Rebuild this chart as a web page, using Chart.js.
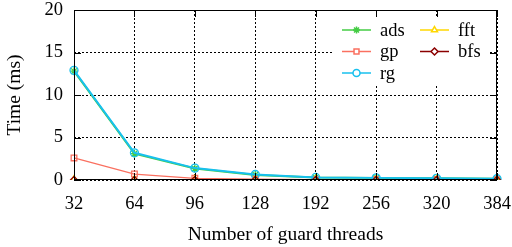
<!DOCTYPE html>
<html>
<head>
<meta charset="utf-8">
<script src="https://cdn.jsdelivr.net/npm/chart.js@4"></script>
<style>
  html, body { margin: 0; padding: 0; background: #fff; }
  #wrap { width: 512px; height: 247px; }
</style>
</head>
<body>
<div id="wrap"><canvas id="timeChart" width="512" height="247"></canvas></div>
<script>
// Data
var threads = ['32', '64', '96', '128', '192', '256', '320', '384'];
var ads = [12.8, 3.1, 1.35, 0.6, 0.3, 0.25, 0.2, 0.15];
var gp  = [2.6, 0.7, 0.2, 0.1, 0.05, 0.05, 0.05, 0.05];
var rg  = [12.9, 3.2, 1.4, 0.65, 0.3, 0.25, 0.2, 0.15];
var fft = [0.04, 0.04, 0.04, 0.04, 0.04, 0.04, 0.04, 0.04];
var bfs = [0.01, 0.01, 0.01, 0.01, 0.01, 0.01, 0.01, 0.01];
var yTicks = [0, 5, 10, 15, 20];

var FONT = '"Liberation Serif", "DejaVu Serif", serif';

// order: later series are drawn on top, like gnuplot does
function makeSet(label, data, color, style, width, radius, order) {
  return {
    label: label,
    data: data,
    borderColor: color,
    backgroundColor: 'rgba(0,0,0,0)',
    pointBorderColor: color,
    pointBackgroundColor: 'rgba(0,0,0,0)',
    pointStyle: style,
    pointRadius: radius,
    pointBorderWidth: 1.3,
    borderWidth: width,
    tension: 0,
    order: order
  };
}

// gnuplot-like box with inward ticks
var boxPlugin = {
  id: 'box',
  afterDraw: function(chart) {
    var ctx = chart.ctx, a = chart.chartArea;
    var x = chart.scales.x, y = chart.scales.y;
    ctx.save();
    ctx.strokeStyle = '#000';
    ctx.lineWidth = 1;
    ctx.setLineDash([]);
    ctx.strokeRect(a.left + 0.5, a.top + 0.5, a.right - a.left - 1, a.bottom - a.top - 1);
    ctx.beginPath();
    yTicks.forEach(function(v) {
      var py = Math.round(y.getPixelForValue(v)) + 0.5;
      ctx.moveTo(a.left, py); ctx.lineTo(a.left + 7, py);
      ctx.moveTo(a.right, py); ctx.lineTo(a.right - 7, py);
    });
    threads.forEach(function(t, i) {
      var px = Math.round(x.getPixelForValue(i)) + 0.5;
      ctx.moveTo(px, a.bottom); ctx.lineTo(px, a.bottom - 7);
      ctx.moveTo(px, a.top); ctx.lineTo(px, a.top + 7);
    });
    ctx.stroke();
    ctx.restore();
  }
};

// legend inside the plot, two columns, white background
var legendPlugin = {
  id: 'insideLegend',
  afterDatasetsDraw: function(chart) {
    var ctx = chart.ctx, a = chart.chartArea;
    var sets = chart.data.datasets;
    var cols = [[0, 1, 2], [3, 4]];
    var colX = [a.right - 155, a.right - 77];
    var rowY = [a.top + 20, a.top + 41.5, a.top + 63];
    ctx.save();
    ctx.fillStyle = '#fff';
    ctx.fillRect(a.right - 165, a.top + 7, 157, 68);
    ctx.font = '18.5px ' + FONT;
    ctx.textBaseline = 'middle';
    cols.forEach(function(col, c) {
      col.forEach(function(idx, r) {
        var ds = sets[idx];
        var lx = colX[c], ly = rowY[r];
        ctx.strokeStyle = ds.borderColor;
        ctx.lineWidth = 1.5;
        ctx.beginPath();
        ctx.moveTo(lx, ly); ctx.lineTo(lx + 29, ly);
        ctx.stroke();
        ctx.fillStyle = '#fff';
        Chart.helpers.drawPoint(ctx, {
          pointStyle: ds.pointStyle, radius: 3.5, rotation: 0, borderWidth: 1.2
        }, lx + 14.5, ly);
        ctx.fillStyle = '#000';
        ctx.fillText(ds.label, lx + 38, ly + 1);
      });
    });
    ctx.restore();
  }
};

var ctx = document.getElementById('timeChart').getContext('2d');
var chart = new Chart(ctx, {
  type: 'line',
  data: {
    labels: threads,
    datasets: [
      makeSet('ads', ads, '#44cc44', 'star', 2, 4, 5),
      makeSet('gp', gp, '#fa7060', 'rect', 1.3, 4, 4),
      makeSet('rg', rg, '#18c0ee', 'circle', 2, 4, 3),
      makeSet('fft', fft, '#ffd700', 'triangle', 1.5, 4, 2),
      makeSet('bfs', bfs, '#8b0000', 'rectRot', 1.5, 3.5, 1)
    ]
  },
  options: {
    responsive: false,
    animation: false,
    layout: { padding: { top: 0, right: 0, left: 2, bottom: 0 } },
    plugins: {
      legend: { display: false },
      tooltip: { enabled: false }
    },
    scales: {
      x: {
        offset: false,
        // fix the axis box so the plot area lands where the reference has it
        afterFit: function(axis) {
          axis.height = 67;
          axis.paddingLeft = 0;
          axis.paddingRight = 15;
        },
        grid: { color: '#000', lineWidth: 1, drawTicks: false },
        border: { display: false, dash: [2, 2] },
        ticks: { color: '#000', font: { family: FONT, size: 18.5 }, padding: 13, maxRotation: 0, autoSkip: false },
        title: { display: true, text: 'Number of guard threads', color: '#000', font: { family: FONT, size: 19.5 }, padding: { top: 0, bottom: 0 } }
      },
      y: {
        min: 0, max: 20,
        afterBuildTicks: function(axis) { axis.ticks = yTicks.map(function(v) { return { value: v }; }); },
        afterFit: function(axis) {
          axis.width = 72;
          axis.paddingTop = 10;
          axis.paddingBottom = 0;
        },
        grid: { color: '#000', lineWidth: 1, drawTicks: false },
        border: { display: false, dash: [2, 2] },
        ticks: { color: '#000', font: { family: FONT, size: 18.5 }, padding: 11 },
        title: { display: true, text: 'Time (ms)', color: '#000', font: { family: FONT, size: 19.5 }, padding: { top: 1, bottom: 0 } }
      }
    }
  },
  plugins: [boxPlugin, legendPlugin]
});
</script>
</body>
</html>
